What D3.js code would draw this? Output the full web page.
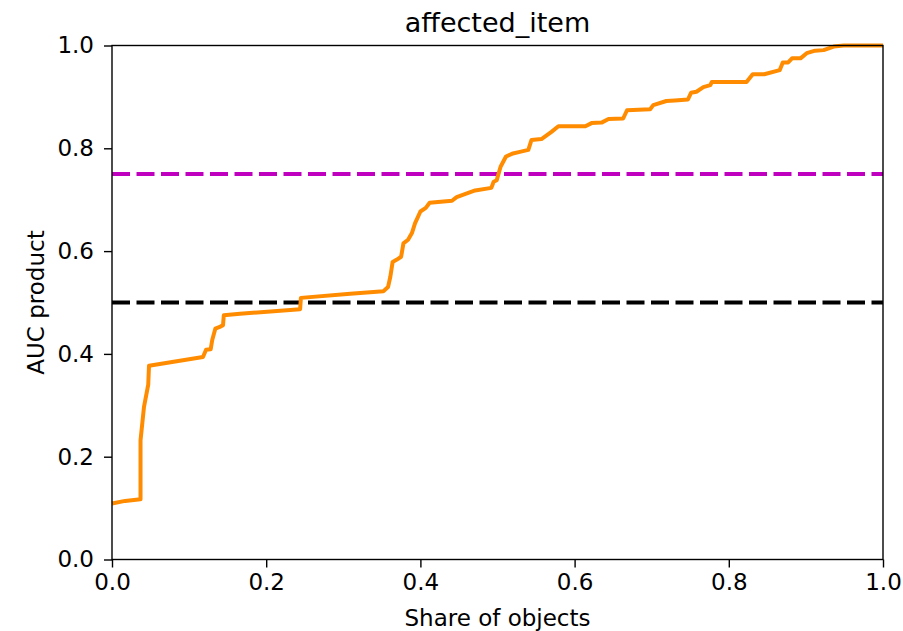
<!DOCTYPE html>
<html>
<head>
<meta charset="utf-8">
<script src="https://cdn.jsdelivr.net/npm/d3@7"></script>
<style>
  html, body { margin: 0; padding: 0; background: #fff; }
  svg { display: block; }
  text { font-family: "DejaVu Sans", sans-serif; fill: #000; }
</style>
</head>
<body>
<svg id="chart" width="903" height="631"></svg>
<script>
// ---- data ----
const chartTitle = "affected_item";
const xLabel = "Share of objects";
const yLabel = "AUC product";
const xTicks = [0.0, 0.2, 0.4, 0.6, 0.8, 1.0];
const yTicks = [0.0, 0.2, 0.4, 0.6, 0.8, 1.0];
const thresholdHigh = 0.75;
const thresholdLow = 0.5;
const shareOfObjects = [0.000, 0.017, 0.037, 0.037, 0.0415, 0.047, 0.048, 0.118, 0.122, 0.128, 0.130, 0.134, 0.139, 0.144, 0.145, 0.166, 0.244, 0.245, 0.309, 0.352, 0.358, 0.361, 0.364, 0.369, 0.375, 0.378, 0.384, 0.389, 0.393, 0.400, 0.407, 0.412, 0.441, 0.447, 0.471, 0.492, 0.495, 0.499, 0.504, 0.511, 0.520, 0.529, 0.540, 0.544, 0.557, 0.570, 0.579, 0.614, 0.622, 0.635, 0.644, 0.663, 0.668, 0.698, 0.702, 0.719, 0.730, 0.747, 0.751, 0.758, 0.767, 0.776, 0.778, 0.823, 0.831, 0.846, 0.866, 0.870, 0.877, 0.882, 0.893, 0.901, 0.912, 0.923, 0.936, 0.949, 1.000];
const aucProduct = [0.109, 0.114, 0.117, 0.232, 0.297, 0.340, 0.377, 0.394, 0.408, 0.409, 0.427, 0.449, 0.452, 0.456, 0.475, 0.478, 0.487, 0.509, 0.517, 0.522, 0.530, 0.550, 0.579, 0.583, 0.589, 0.615, 0.622, 0.635, 0.654, 0.677, 0.684, 0.694, 0.698, 0.705, 0.718, 0.723, 0.735, 0.738, 0.764, 0.784, 0.790, 0.793, 0.797, 0.816, 0.818, 0.832, 0.843, 0.843, 0.849, 0.850, 0.857, 0.858, 0.874, 0.876, 0.884, 0.892, 0.893, 0.895, 0.908, 0.910, 0.919, 0.923, 0.929, 0.929, 0.944, 0.944, 0.952, 0.967, 0.967, 0.975, 0.975, 0.985, 0.990, 0.991, 0.998, 1.000, 1.000];

// ---- layout ----
const svg = d3.select("#chart");
const mLeft = 112, mRight = 883, mTop = 45.5, mBottom = 559.5;

const x = d3.scaleLinear().domain([0, 1]).range([mLeft, mRight]);
const y = d3.scaleLinear().domain([0, 1]).range([mBottom, mTop]);

const points = shareOfObjects.map((s, i) => [s, aucProduct[i]]);

// threshold lines
svg.append("line")
  .attr("x1", x(0)).attr("x2", x(1))
  .attr("y1", y(thresholdLow)).attr("y2", y(thresholdLow))
  .attr("stroke", "#000").attr("stroke-width", 4)
  .attr("stroke-dasharray", "18,6.5");
svg.append("line")
  .attr("x1", x(0)).attr("x2", x(1))
  .attr("y1", y(thresholdHigh)).attr("y2", y(thresholdHigh))
  .attr("stroke", "#bf00bf").attr("stroke-width", 4)
  .attr("stroke-dasharray", "18,6.5");

// curve
const line = d3.line().x(d => x(d[0])).y(d => y(d[1]));
svg.append("path")
  .datum(points)
  .attr("d", line)
  .attr("fill", "none")
  .attr("stroke", "#ff8c00")
  .attr("stroke-width", 4)
  .attr("stroke-linejoin", "round");

// axes
const xAxis = d3.axisBottom(x).tickValues(xTicks).tickFormat(d3.format(".1f")).tickSizeOuter(0).tickSize(8).tickPadding(6);
const yAxis = d3.axisLeft(y).tickValues(yTicks).tickFormat(d3.format(".1f")).tickSizeOuter(0).tickSize(8).tickPadding(10);

const gx = svg.append("g").attr("transform", `translate(0,${mBottom})`).call(xAxis);
const gy = svg.append("g").attr("transform", `translate(${mLeft},0)`).call(yAxis);
[gx, gy].forEach(g => {
  g.select(".domain").remove();
  g.selectAll(".tick line").attr("stroke", "#000").attr("stroke-width", 1.4);
  g.selectAll(".tick text").attr("font-family", "DejaVu Sans").attr("font-size", 23).attr("fill", "#000");
});

// frame
svg.append("rect")
  .attr("x", mLeft).attr("y", mTop)
  .attr("width", mRight - mLeft).attr("height", mBottom - mTop)
  .attr("fill", "none").attr("stroke", "#000").attr("stroke-width", 1.4);

// title & labels
svg.append("text")
  .attr("x", (mLeft + mRight) / 2).attr("y", 32)
  .attr("text-anchor", "middle").attr("font-size", 27)
  .text(chartTitle);
svg.append("text")
  .attr("x", (mLeft + mRight) / 2).attr("y", 626)
  .attr("text-anchor", "middle").attr("font-size", 23)
  .text(xLabel);
svg.append("text")
  .attr("transform", `translate(44,${(mTop + mBottom) / 2}) rotate(-90)`)
  .attr("text-anchor", "middle").attr("font-size", 23)
  .text(yLabel);
</script>
</body>
</html>
